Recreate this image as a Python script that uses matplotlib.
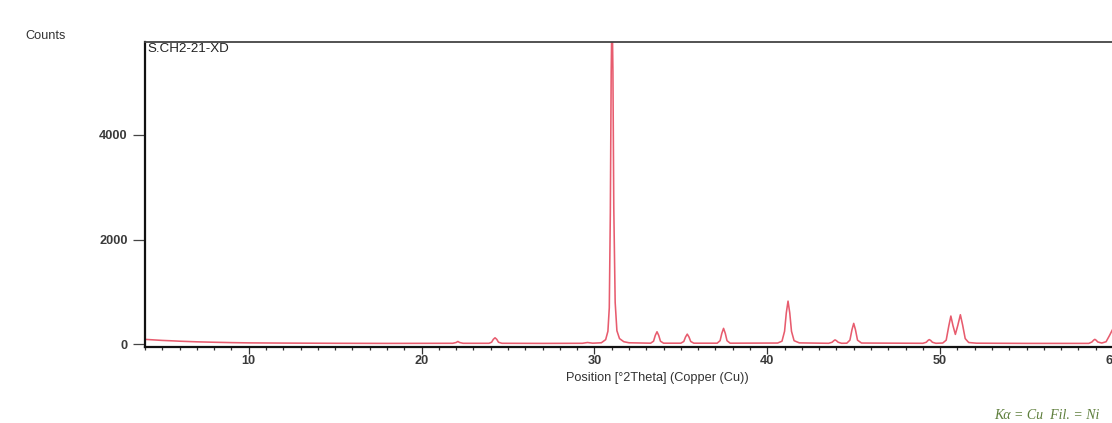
import matplotlib
matplotlib.use("Agg")
import matplotlib.pyplot as plt
from matplotlib.ticker import MultipleLocator

# 2-theta positions (degrees) and counts
two_theta = [4.0, 4.5, 5.0, 5.5, 6.0, 7.0, 8.0, 9.0, 10.0, 12.0, 15.0, 18.0, 21.8,
             22.0, 22.1, 22.2, 22.4,
             23.9, 24.05, 24.15, 24.25, 24.35, 24.45, 24.65,
             27.0, 29.3, 29.6, 29.9,
             30.4, 30.65, 30.78, 30.86, 30.92, 30.97, 31.02, 31.07, 31.12, 31.2, 31.3, 31.45, 31.7, 32.0,
             33.25, 33.42, 33.52, 33.62, 33.72, 33.82, 34.0,
             35.0, 35.17, 35.27, 35.37, 35.47, 35.57, 35.75,
             37.1, 37.27, 37.37, 37.47, 37.57, 37.67, 37.85,
             40.6, 40.85, 41.0, 41.1, 41.2, 41.3, 41.4, 41.55, 41.85,
             43.55, 43.75, 43.85, 43.92, 44.0, 44.1, 44.3,
             44.6, 44.78, 44.9, 45.0, 45.1, 45.22, 45.45,
             49.0, 49.2, 49.3, 49.37, 49.45, 49.55, 49.75,
             50.15, 50.35, 50.5, 50.62, 50.74, 50.88, 51.02, 51.17, 51.3, 51.45, 51.65, 52.1,
             55.0, 58.6, 58.78, 58.88, 58.95, 59.02, 59.12, 59.35, 59.6, 59.8, 60.0]
counts = [95, 85, 75, 68, 60, 48, 40, 33, 28, 24, 20, 18, 20,
          35, 55, 35, 20,
          20, 40, 95, 125, 95, 40, 20,
          18, 20, 35, 22,
          30, 90, 250, 700, 2500, 5200, 6500, 5200, 2600, 800, 260, 110, 50, 30,
          22, 60, 170, 240, 170, 60, 22,
          22, 55, 140, 195, 140, 55, 22,
          22, 70, 210, 305, 210, 70, 22,
          25, 60, 250, 600, 825, 600, 250, 70, 28,
          20, 40, 70, 85, 70, 40, 20,
          22, 80, 280, 400, 280, 80, 25,
          20, 40, 75, 90, 75, 40, 20,
          25, 80, 350, 540, 360, 190, 360, 565, 370, 110, 35, 22,
          18, 18, 45, 80, 95, 80, 45, 25, 50, 170, 300]

y_ticks = [0, 2000, 4000]
x_ticks = [10, 20, 30, 40, 50, 60]

fig = plt.figure(figsize=(11.12, 4.23), dpi=100)
ax = fig.add_axes([145 / 1112, 1 - 346.7 / 423, (1113 - 145) / 1112, (346.7 - 42.3) / 423])

ax.plot(two_theta, counts, color="#e2334a", lw=1.15, alpha=0.8)

ax.set_xlim(4, 60)
ax.set_ylim(-45, 5765)

ax.set_xticks(x_ticks)
ax.xaxis.set_minor_locator(MultipleLocator(1))
ax.set_yticks(y_ticks)

font = "Liberation Sans"
fs = 9.2
ax.tick_params(axis="y", direction="out", length=8.6, width=0.9, pad=4,
               labelsize=fs, labelcolor="#3a3a3a", color="#444444")
ax.tick_params(axis="x", which="major", direction="out", length=4.8, width=0.9, pad=1.5,
               labelsize=fs, labelcolor="#3a3a3a", color="#333333")
ax.tick_params(axis="x", which="minor", direction="out", length=2.4, width=0.9, color="#333333")
for lab in ax.get_xticklabels() + ax.get_yticklabels():
    lab.set_fontfamily(font)
    lab.set_fontweight("bold")

for side in ["left", "bottom"]:
    ax.spines[side].set_linewidth(1.6)
    ax.spines[side].set_color("#111111")
ax.spines["top"].set_linewidth(1.3)
ax.spines["top"].set_color("#444444")
ax.spines["right"].set_linewidth(1.3)
ax.spines["right"].set_color("#444444")

ax.text(0.003, 0.997, "S.CH2-21-XD", transform=ax.transAxes, ha="left", va="top",
        fontsize=9.6, family=font, color="#222222")

fig.text(25 / 1112, 1 - 36 / 423, "Counts", ha="left", va="center",
         fontsize=fs, family=font, color="#333333")
fig.text(657 / 1112, 1 - 378 / 423, "Position [°2Theta] (Copper (Cu))", ha="center", va="center",
         fontsize=fs, family=font, color="#333333")
fig.text(1100 / 1112, 1 - 415 / 423, "Kα = Cu  Fil. = Ni", ha="right", va="center",
         fontsize=10, family="Liberation Serif", style="italic", color="#5e7f3c")

fig.savefig("out.png", dpi=100)
